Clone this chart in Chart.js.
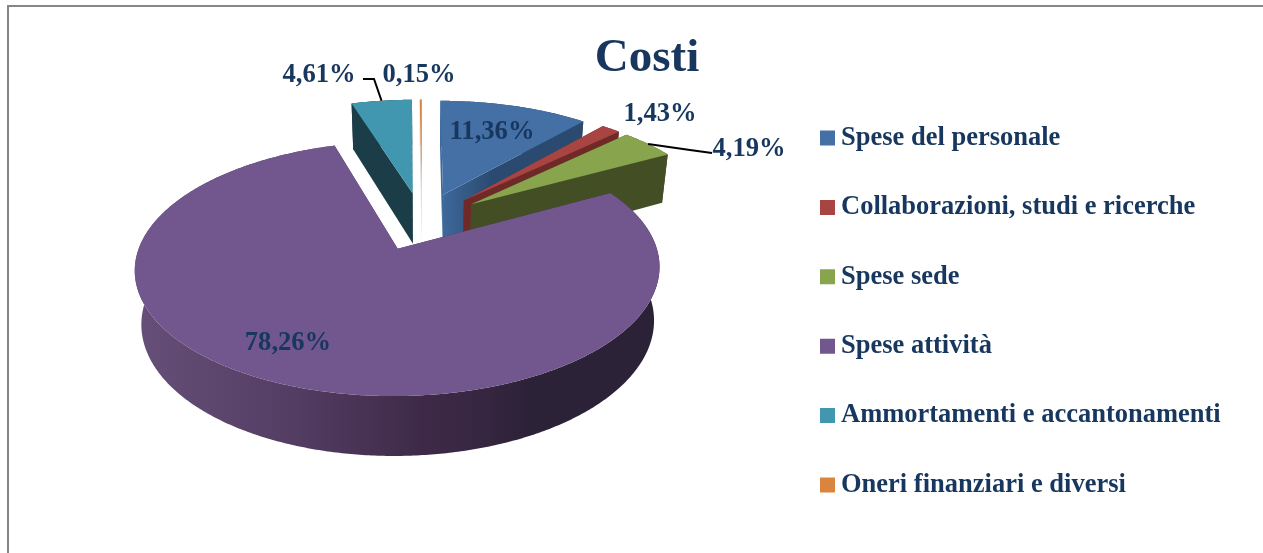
<!DOCTYPE html>
<html>
<head>
<meta charset="utf-8">
<style>
html,body{margin:0;padding:0;background:#fff;overflow:hidden;width:1263px;height:553px}
#frame{position:absolute;left:7px;top:5px;width:2000px;height:2000px;border:2px solid #868686;box-sizing:border-box}
canvas{position:absolute;left:0;top:0;display:block}
</style>
<script src="https://cdn.jsdelivr.net/npm/chart.js@4"></script>
</head>
<body>
<div id="frame"></div>
<canvas id="c" width="1263" height="553"></canvas>
<script>
const chartTitle = 'Costi';
const categories = ['Spese del personale','Collaborazioni, studi e ricerche','Spese sede','Spese attività','Ammortamenti e accantonamenti','Oneri finanziari e diversi'];
const values = [11.36,1.43,4.19,78.26,4.61,0.15];

const topColors = ['#4470A6','#A84542','#88A44D','#71578E','#4197AF','#DB843D'];
const sideStops = [
  [[0.53,'#3E6B9E'],[0.62,'#2B4A70']],
  [[0,'#6F2A28'],[1,'#6F2A28']],
  [[0,'#434E25'],[1,'#434E25']],
  [[0,'#665079'],[0.28,'#533D63'],[0.5,'#3E2A48'],[0.62,'#35253F'],[0.68,'#2C2238'],[1,'#2C2238']],
  [[0,'#1B3D48'],[1,'#1B3D48']],
  [[0,'#DDD5CC'],[1,'#DDD5CC']]
];
const paintOrder = [4,5,0,1,2,3];
const ink = '#17375E';
const serif = '"Liberation Serif", "Times New Roman", serif';

// view of the tilted pie
const view = {cx:422, cy:221, radius:250, explode:62.5, persp:6.6, flat:0.4624, shrink:0.977, wallA:15, wallB:36.5};
const labelFontSize = 26.6;
const labelSpots = [[492,132.5],[660,114.5],[749,149],[288,343.5],[319,75],[419,75]];
const leaderBends = {4:[[374,79],[363,79]], 2:[[690,150],[712,153]]};

const legendFontSize = 26.5;
const legendPitch = 69.4;

function project(u,v,bottom,R){
  const s = view.persp/(view.persp+v);
  let x = view.cx+R*u*s;
  let y = view.cy-view.flat*R*v*s;
  if(bottom){ x = view.cx+(x-view.cx)*view.shrink; y += view.wallA+view.wallB*s; }
  return [x,y];
}
function polygon(ctx,pts,fill){
  ctx.beginPath();
  pts.forEach((p,i)=> i?ctx.lineTo(p[0],p[1]):ctx.moveTo(p[0],p[1]));
  ctx.closePath();
  ctx.fillStyle=fill; ctx.fill();
}
function sideFill(ctx,i){
  const g = ctx.createLinearGradient(view.cx-290,0,view.cx+290,0);
  sideStops[i].forEach(st=>g.addColorStop(st[0],st[1]));
  return g;
}

const pie3d = {
  id:'pie3d',
  afterLayout(chart){
    // place the ring, title and legend boxes where the reference has them
    const side = 2*view.radius+view.explode;
    chart.chartArea = {left:view.cx-side/2, right:view.cx+side/2, top:view.cy-side/2, bottom:view.cy+side/2, width:side, height:side};
    const t = chart.titleBlock;
    const tw = t.right-t.left;
    t.left = 647-tw/2; t.right = 647+tw/2;
    t.top = 59-t.height/2; t.bottom = t.top+t.height;
    const l = chart.legend;
    const pad = l.options.labels.padding;
    const h = l.height, w = l.width;
    l.left = 827.25-pad; l.right = l.left+w;
    l.top = 138-pad-legendFontSize/2; l.bottom = l.top+h;
  },
  beforeDatasetDraw(chart){
    const ctx = chart.ctx;
    const arcs = chart.getDatasetMeta(0).data;
    const slices = arcs.map(el=>{
      const R = el.outerRadius, a = (el.options.offset||0)/R, mid=(el.startAngle+el.endAngle)/2;
      return {R,a0:el.startAngle,a1:el.endAngle,mid,ou:a*Math.cos(mid),ov:-a*Math.sin(mid)};
    });
    const rim = (s,ang,b)=>project(s.ou+Math.cos(ang),s.ov-Math.sin(ang),b,s.R);
    const apex = (s,b)=>project(s.ou,s.ov,b,s.R);
    const arcPts = (s,b)=>{
      const n = Math.max(2,Math.ceil((s.a1-s.a0)/0.01)), out=[];
      for(let k=0;k<=n;k++) out.push(rim(s,s.a0+(s.a1-s.a0)*k/n,b));
      return out;
    };
    ctx.save();
    paintOrder.forEach(i=>{
      const s = slices[i], fill = sideFill(ctx,i);
      [s.a0,s.a1].forEach(ang=>polygon(ctx,[apex(s,false),rim(s,ang,false),rim(s,ang,true),apex(s,true)],fill));
      polygon(ctx,arcPts(s,false).concat(arcPts(s,true).reverse()),fill);
      polygon(ctx,[apex(s,false)].concat(arcPts(s,false)),topColors[i]);
    });
    // leader lines
    ctx.strokeStyle='#000'; ctx.lineWidth=2; ctx.lineJoin='miter';
    Object.keys(leaderBends).forEach(k=>{
      const s = slices[k], p = rim(s,s.mid,false);
      ctx.beginPath(); ctx.moveTo(p[0],p[1]);
      leaderBends[k].forEach(q=>ctx.lineTo(q[0],q[1]));
      ctx.stroke();
    });
    // value labels
    ctx.fillStyle=ink; ctx.textAlign='center'; ctx.textBaseline='middle';
    ctx.font='bold '+labelFontSize+'px '+serif;
    values.forEach((v,i)=>ctx.fillText(v.toFixed(2).replace('.',',')+'%',labelSpots[i][0],labelSpots[i][1]));
    ctx.restore();
    return false;
  }
};

new Chart(document.getElementById('c'),{
  type:'pie',
  data:{labels:categories,datasets:[{data:values,backgroundColor:topColors,borderWidth:0,offset:view.explode}]},
  plugins:[pie3d],
  options:{
    responsive:false,animation:false,
    plugins:{
      tooltip:{enabled:false},
      title:{display:true,text:chartTitle,color:ink,padding:0,font:{family:serif,size:47,weight:'bold'}},
      legend:{
        display:true,position:'right',align:'start',
        labels:{
          color:ink,boxWidth:0.5,boxHeight:0.5,padding:legendPitch-legendFontSize,
          font:{family:serif,size:legendFontSize,weight:'bold'},
          generateLabels(chart){
            return Chart.controllers.pie.overrides.plugins.legend.labels.generateLabels(chart).map(it=>{
              it.strokeStyle=it.fillStyle; it.lineWidth=14.5; return it;
            });
          }
        }
      }
    }
  }
});
</script>
</body>
</html>
